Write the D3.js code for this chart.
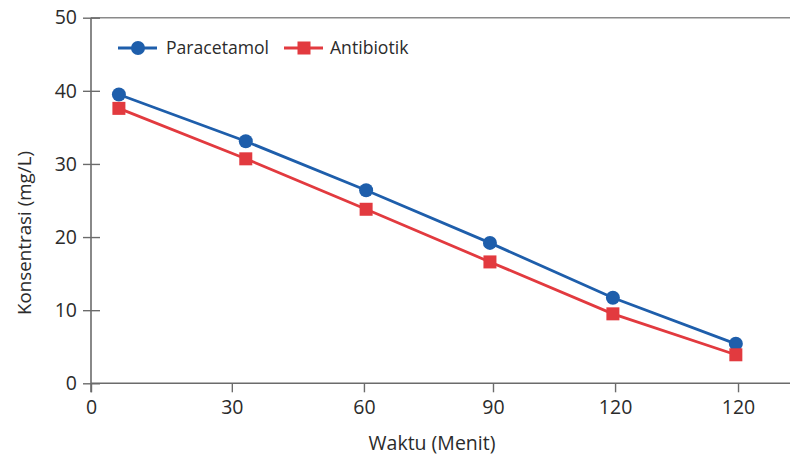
<!DOCTYPE html>
<html>
<head>
<meta charset="utf-8">
<script src="https://cdn.jsdelivr.net/npm/d3@7"></script>
<style>
  html, body { margin: 0; padding: 0; background: #fff; }
  svg { display: block; }
  text { font-family: "Open Sans", "Noto Sans", sans-serif; fill: #2b2b2b; }
</style>
</head>
<body>
<svg id="chart" width="790" height="455"></svg>
<script>
// ---- data ----
const timePos = [6.4, 35.5, 63.1, 91.5, 119.7, 147.9];
const paracetamol = [39.5, 33.1, 26.4, 19.2, 11.7, 5.4];
const antibiotik = [37.6, 30.7, 23.8, 16.6, 9.5, 3.9];
const xTickPos = [0, 32.3, 62.6, 92.2, 120.2, 148.4];
const xTickLabels = ["0", "30", "60", "90", "120", "120"];
const yTicks = [0, 10, 20, 30, 40, 50];
const seriesNames = ["Paracetamol", "Antibiotik"];
const seriesColors = ["#1e5eab", "#e23a3f"];

// ---- layout ----
const plotLeft = 91, plotTop = 17.7, plotBottom = 383.3, rightEdge = 790;
const svg = d3.select("#chart");

const x = d3.scaleLinear().domain([0, 150]).range([plotLeft, plotLeft + 150 * 4.36]);
const y = d3.scaleLinear().domain([0, 50]).range([plotBottom, plotTop]);

const axisColor = "#6b6b6b";

// top border line at 50
svg.append("line")
  .attr("x1", plotLeft).attr("x2", rightEdge)
  .attr("y1", y(50)).attr("y2", y(50))
  .attr("stroke", "#8a8a8a").attr("stroke-width", 1.6);

// x axis
const xAxis = d3.axisBottom(x)
  .tickValues(xTickPos)
  .tickFormat((d, i) => xTickLabels[i])
  .tickSize(9).tickPadding(8).tickSizeOuter(0);
const gx = svg.append("g").attr("transform", `translate(0,${plotBottom})`).call(xAxis);
gx.select(".domain").remove();
gx.append("line").attr("x1", plotLeft).attr("x2", rightEdge).attr("y1", 0).attr("y2", 0)
  .attr("stroke", axisColor).attr("stroke-width", 1.6);
gx.selectAll(".tick line").attr("stroke", axisColor).attr("stroke-width", 1.4);
gx.selectAll(".tick text").attr("font-size", 19.5).attr("fill", "#2b2b2b")
  .style("font-family", '"Open Sans", sans-serif');

// y axis
const yAxis = d3.axisLeft(y).tickValues(yTicks).tickSize(8).tickPadding(6).tickSizeOuter(0);
const gy = svg.append("g").attr("transform", `translate(${plotLeft},0)`).call(yAxis);
gy.select(".domain").remove();
gy.append("line").attr("x1", 0).attr("x2", 0).attr("y1", y(50)).attr("y2", plotBottom + 9)
  .attr("stroke", axisColor).attr("stroke-width", 1.6);
gy.selectAll(".tick line").attr("x1", 9).attr("x2", -8)
  .attr("stroke", axisColor).attr("stroke-width", 1.4);
gy.selectAll(".tick text").attr("font-size", 19.5).attr("fill", "#2b2b2b")
  .style("font-family", '"Open Sans", sans-serif');

// axis titles
svg.append("text")
  .attr("x", 432).attr("y", 450)
  .attr("text-anchor", "middle")
  .attr("font-size", 19.5)
  .text("Waktu (Menit)");
svg.append("text")
  .attr("transform", `translate(31,233) rotate(-90)`)
  .attr("text-anchor", "middle")
  .attr("font-size", 18.8)
  .text("Konsentrasi (mg/L)");

// series
const allSeries = [paracetamol, antibiotik];
const line = d3.line().x((d, i) => x(timePos[i])).y(d => y(d));

allSeries.forEach((vals, s) => {
  svg.append("path")
    .datum(vals)
    .attr("d", line)
    .attr("fill", "none")
    .attr("stroke", seriesColors[s])
    .attr("stroke-width", 2.8);
});

// markers
svg.append("g").selectAll("circle")
  .data(paracetamol).join("circle")
  .attr("cx", (d, i) => x(timePos[i]))
  .attr("cy", d => y(d))
  .attr("r", 7)
  .attr("fill", seriesColors[0]);

const sq = 13;
svg.append("g").selectAll("rect")
  .data(antibiotik).join("rect")
  .attr("x", (d, i) => x(timePos[i]) - sq / 2)
  .attr("y", d => y(d) - sq / 2)
  .attr("width", sq).attr("height", sq)
  .attr("fill", seriesColors[1]);

// legend
const legendItems = [
  { name: seriesNames[0], color: seriesColors[0], shape: "circle", x0: 118, tx: 166 },
  { name: seriesNames[1], color: seriesColors[1], shape: "square", x0: 284, tx: 330 }
];
const ly = 48;
const lg = svg.append("g");
legendItems.forEach(it => {
  lg.append("line").attr("x1", it.x0).attr("x2", it.x0 + 39)
    .attr("y1", ly).attr("y2", ly)
    .attr("stroke", it.color).attr("stroke-width", 2.8);
  if (it.shape === "circle") {
    lg.append("circle").attr("cx", it.x0 + 20).attr("cy", ly).attr("r", 7).attr("fill", it.color);
  } else {
    lg.append("rect").attr("x", it.x0 + 20 - sq / 2).attr("y", ly - sq / 2)
      .attr("width", sq).attr("height", sq).attr("fill", it.color);
  }
  lg.append("text").attr("x", it.tx).attr("y", ly).attr("dy", "0.35em")
    .attr("font-size", 17.6).text(it.name);
});
</script>
</body>
</html>
